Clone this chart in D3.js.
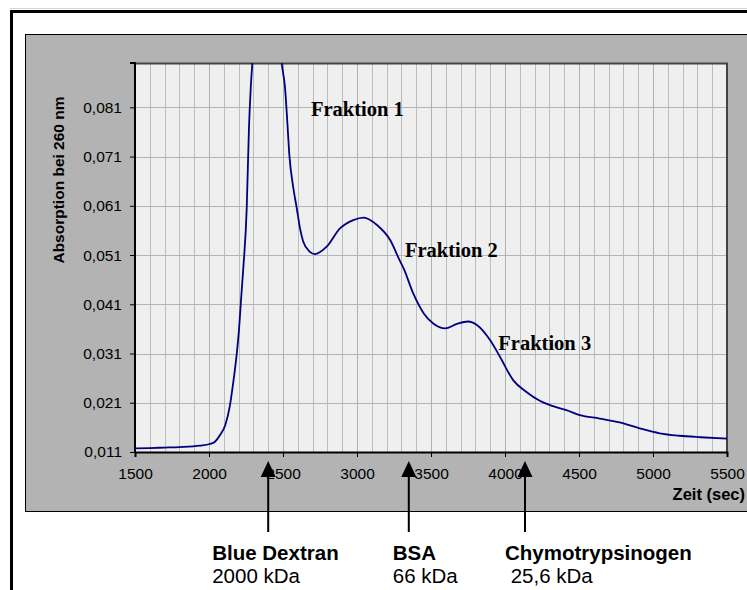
<!DOCTYPE html>
<html>
<head>
<meta charset="utf-8">
<script src="https://cdn.jsdelivr.net/npm/d3@7"></script>
<style>
    body { margin: 0; background: #fff; }
    svg { display: block; }
</style>
</head>
<body>
<div id="graph"></div>
<script>
// Elutionsprofil: Zeit (sec) gegen Absorption bei 260 nm
const zeitSec = [1500, 1600, 1700, 1800, 1940, 2005, 2040, 2075, 2110, 2140, 2160, 2175, 2190, 2205, 2215, 2230,
    2255, 2270, 2282, 2293, 2330, 2380, 2430, 2470, 2491, 2514, 2529, 2543, 2570, 2593, 2615, 2637, 2680, 2715,
    2795, 2885, 2975, 3045, 3135, 3225, 3290, 3315, 3380, 3450, 3515, 3595, 3675, 3750, 3810, 3900, 3965, 4055,
    4145, 4235, 4325, 4415, 4505, 4640, 4775, 4910, 5045, 5180, 5320, 5500];
const absorption = [0.01175, 0.0118, 0.0119, 0.0120, 0.01228, 0.01262, 0.01309, 0.01445, 0.01648, 0.0202, 0.0243,
    0.0277, 0.0317, 0.0368, 0.0413, 0.0476, 0.0606, 0.0768, 0.0849, 0.0900, 0.104, 0.112, 0.108, 0.097, 0.0900,
    0.0849, 0.0781, 0.0713, 0.0646, 0.0605, 0.0564, 0.0537, 0.0517, 0.0512, 0.0527, 0.0564, 0.0581, 0.0586, 0.0571,
    0.0540, 0.0498, 0.0483, 0.0432, 0.0392, 0.0371, 0.0361, 0.0370, 0.0375, 0.0368, 0.0337, 0.0304, 0.0256, 0.0232,
    0.0214, 0.0203, 0.0195, 0.0185, 0.0178, 0.0170, 0.0158, 0.0148, 0.0143, 0.0140, 0.0137];

const xTicks = [1500, 2000, 2500, 3000, 3500, 4000, 4500, 5000, 5500];
const yTicks = [0.011, 0.021, 0.031, 0.041, 0.051, 0.061, 0.071, 0.081];
const yDomain = [0.011, 0.090];

const fraktionen = ["Fraktion 1", "Fraktion 2", "Fraktion 3"];
const fraktionZeit = [2689, 3324, 3955];
const fraktionAbs = [0.0792, 0.0506, 0.0317];

const markerNamen = ["Blue Dextran", "BSA", "Chymotrypsinogen"];
const markerMasse = ["2000 kDa", "66 kDa", " 25,6 kDa"];
const markerZeit = [2400, 3350, 4135];

const width = 747, height = 590;
const margin = {top: 63, left: 135, right: 20, bottom: 138};
const w = width - margin.left - margin.right,
    h = height - margin.top - margin.bottom;

const svg = d3.select("#graph").append("svg")
    .attr("width", width)
    .attr("height", height);

// outer frame + grey chart area
svg.append("line")
    .attr("x1", 10).attr("x2", width).attr("y1", 8.5).attr("y2", 8.5)
    .attr("stroke", "#d4d4d4");
svg.append("rect")
    .attr("x", 11.5).attr("y", 11.5).attr("width", width + 20).attr("height", height + 20)
    .attr("fill", "#fff").attr("stroke", "#000").attr("stroke-width", 3);
svg.append("rect")
    .attr("x", 25.5).attr("y", 34.5).attr("width", width).attr("height", 477)
    .attr("fill", "#b3b3b3").attr("stroke", "#000").attr("stroke-width", 1);

const x = d3.scaleLinear().domain([1500, 5500]).range([0, w]);
const y = d3.scaleLinear().domain(yDomain).range([h, 0]);

const g = svg.append("g").attr("transform", "translate(" + margin.left + "," + margin.top + ")");

g.append("rect").attr("width", w).attr("height", h).attr("fill", "#efefef");

// grid: every 100 sec, every 0.01
g.append("g")
    .selectAll("line").data(d3.range(1600, 5500, 100))
    .enter().append("line")
    .attr("x1", d => Math.round(x(d)) + 0.5).attr("x2", d => Math.round(x(d)) + 0.5)
    .attr("y1", 0).attr("y2", h)
    .attr("stroke", d => d % 500 === 0 ? "#b0b0b0" : "#bcbcbc")
    .attr("stroke-width", 1);
g.append("g")
    .selectAll("line").data(yTicks.slice(1))
    .enter().append("line")
    .attr("x1", 0).attr("x2", w)
    .attr("y1", d => Math.round(y(d)) + 0.5).attr("y2", d => Math.round(y(d)) + 0.5)
    .attr("stroke", "#b4b4b4");

// top / right border of plot area
g.append("path")
    .attr("d", "M0,0.5H" + w + "V" + h)
    .attr("fill", "none").attr("stroke", "#444").attr("stroke-width", 2);

const fmt = d => d.toFixed(3).replace(".", ",");

const xAxis = g.append("g")
    .attr("transform", "translate(0," + h + ")")
    .call(d3.axisBottom(x).tickValues(xTicks).tickSize(5).tickPadding(11).tickFormat(d3.format("d")));
const yAxis = g.append("g")
    .call(d3.axisLeft(y).tickValues(yTicks).tickSize(5).tickPadding(8).tickFormat(fmt));

[xAxis, yAxis].forEach(a => {
    a.select(".domain").attr("stroke", "#000").attr("stroke-width", 2);
    a.selectAll(".tick line").attr("stroke", "#000");
    a.selectAll("text")
        .attr("fill", "#000")
        .style("font-family", "Arial, 'Liberation Sans', sans-serif")
        .style("font-size", "15.5px");
});
yAxis.select(".domain").attr("d", "M-5," + y(yDomain[1]) + "H0V" + h);

// curve
const clipId = "plotclip";
g.append("clipPath").attr("id", clipId)
    .append("rect").attr("width", w).attr("height", h);

const line = d3.line()
    .x(d => x(d[0]))
    .y(d => y(d[1]))
    .curve(d3.curveMonotoneX);

g.append("path")
    .datum(d3.zip(zeitSec, absorption))
    .attr("clip-path", "url(#" + clipId + ")")
    .attr("fill", "none")
    .attr("stroke", "#000080")
    .attr("stroke-width", 1.8)
    .attr("d", line);

// Fraktion labels
g.selectAll(".fraktion").data(fraktionen)
    .enter().append("text").attr("class", "fraktion")
    .attr("x", (d, i) => x(fraktionZeit[i]))
    .attr("y", (d, i) => y(fraktionAbs[i]))
    .style("font-family", "'Times New Roman', 'Liberation Serif', serif")
    .style("font-weight", "bold")
    .style("font-size", "20.5px")
    .text(d => d);

// axis titles
svg.append("text")
    .attr("transform", "translate(64,180) rotate(-90)")
    .attr("text-anchor", "middle")
    .style("font-family", "Arial, 'Liberation Sans', sans-serif")
    .style("font-weight", "bold")
    .style("font-size", "15.5px")
    .text("Absorption bei 260 nm");
svg.append("text")
    .attr("x", 745).attr("y", 500)
    .attr("text-anchor", "end")
    .style("font-family", "Arial, 'Liberation Sans', sans-serif")
    .style("font-weight", "bold")
    .style("font-size", "16.5px")
    .text("Zeit (sec)");

// marker arrows below the axis
const marker = g.selectAll(".marker").data(markerNamen)
    .enter().append("g").attr("class", "marker")
    .attr("transform", (d, i) => "translate(" + x(markerZeit[i]) + ",0)");

marker.append("line")
    .attr("x1", 0).attr("x2", 0).attr("y1", h + 22).attr("y2", h + 80)
    .attr("stroke", "#000").attr("stroke-width", 2);
marker.append("path")
    .attr("d", "M0," + (h + 9) + "L-7.5," + (h + 25) + "H7.5Z")
    .attr("fill", "#000");

const labelDx = [-56, -16, -20];
marker.append("text")
    .attr("x", (d, i) => labelDx[i]).attr("y", h + 108)
    .style("font-family", "Arial, 'Liberation Sans', sans-serif")
    .style("font-weight", "bold")
    .style("font-size", "20.5px")
    .text(d => d);
marker.append("text")
    .attr("x", (d, i) => labelDx[i]).attr("y", h + 131)
    .attr("xml:space", "preserve")
    .style("white-space", "pre")
    .style("font-family", "Arial, 'Liberation Sans', sans-serif")
    .style("font-size", "20.5px")
    .text((d, i) => markerMasse[i]);
</script>
</body>
</html>
